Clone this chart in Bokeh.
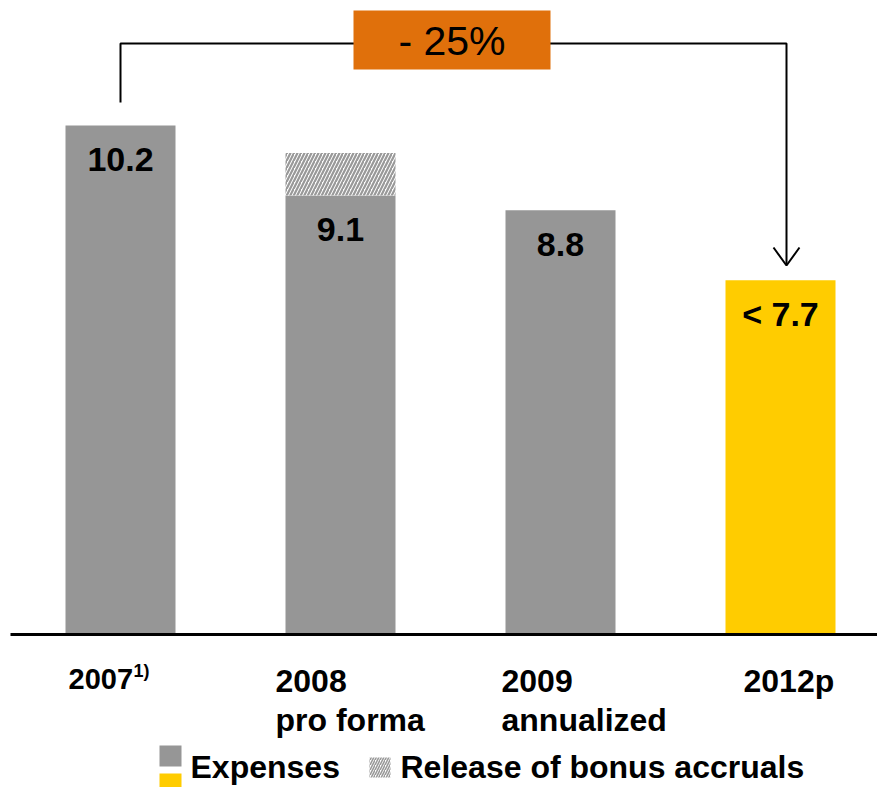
from bokeh.plotting import figure
from bokeh.models import Range1d
from bokeh.core.properties import value
from bokeh.embed import file_html
from bokeh.resources import INLINE

# ---- data ----
cat_line1 = ["2007", "2008", "2009", "2012p"]
cat_line2 = ["", "pro forma", "annualized", ""]
expenses = [10.2, 8.8, 8.5, 7.1]
bonus_release = [0.0, 0.85, 0.0, 0.0]
value_labels = ["10.2", "9.1", "8.8", "< 7.7"]
change_label = "- 25%"
legend_labels = ["Expenses", "Release of bonus accruals"]

# ---- styles ----
GRAY = "#969696"
YELLOW = "#FFCC00"
ORANGE = "#E0700B"
HATCH = "#999999"
FONT = value("Liberation Sans")
bar_colors = [GRAY, GRAY, GRAY, YELLOW]

W, H = 877, 787
PX_PER_UNIT = 49.9
BASE_PX = 634
STEP_PX = 220
FIRST_PX = 120

def X(px):
    return (px - FIRST_PX) / STEP_PX

def Y(py):
    return (BASE_PX - py) / PX_PER_UNIT

def adj(size):
    # baseline correction observed in the renderer
    return -round(0.37 * size)

p = figure(width=W, height=H,
           x_range=Range1d(X(0), X(W)), y_range=Range1d(Y(H), Y(0)),
           output_backend="svg", toolbar_location=None,
           x_axis_type=None, y_axis_type=None, min_border=0,
           outline_line_color=None, background_fill_color="white",
           border_fill_color="white")
p.grid.visible = False

xs = list(range(len(expenses)))
tops2 = [e + b for e, b in zip(expenses, bonus_release)]

# bars
p.vbar(x=xs, top=expenses, width=0.5, fill_color=bar_colors, line_color=None)
p.vbar(x=xs, bottom=expenses, top=tops2, width=0.5, fill_color="white",
       line_color=None, hatch_pattern="/", hatch_color=HATCH,
       hatch_scale=7, hatch_weight=2.2)

# baseline
p.segment(x0=X(10), x1=X(W), y0=0, y1=0, line_width=3, line_color="black")

# value labels
p.text(x=xs, y=expenses, text=value_labels, text_align="center",
       text_baseline="alphabetic", y_offset=47 + adj(34), text_font=FONT,
       text_font_style="bold", text_font_size="34px", text_color="black")

# category labels
label_offsets = [-52, -65, -59, -37]
lx = [i + o / STEP_PX for i, o in zip(xs, label_offsets)]
p.text(x=lx[:1], y=[0], text=cat_line1[:1], text_align="left",
       text_baseline="alphabetic", y_offset=55 + adj(29), text_font=FONT,
       text_font_style="bold", text_font_size="29px", text_color="black")
p.text(x=lx[1:], y=[0] * 3, text=cat_line1[1:], text_align="left",
       text_baseline="alphabetic", y_offset=58 + adj(32), text_font=FONT,
       text_font_style="bold", text_font_size="32px", text_color="black")
p.text(x=lx, y=[0] * 4, text=cat_line2, text_align="left",
       text_baseline="alphabetic", y_offset=97 + adj(32), text_font=FONT,
       text_font_style="bold", text_font_size="32px", text_color="black")
p.text(x=[X(133)], y=[Y(677)], text=["1)"], text_align="left",
       text_baseline="alphabetic", y_offset=adj(18), text_font=FONT,
       text_font_style="bold", text_font_size="18px", text_color="black")

# bracket with arrow
top_level = Y(43)
ax = X(786)
p.line(x=[0, 0, ax, ax], y=[Y(102), top_level, top_level, Y(264)],
       line_width=2, line_color="black")
p.line(x=[ax - 13 / STEP_PX, ax, ax + 13 / STEP_PX],
       y=[Y(247), Y(265), Y(247)], line_width=2, line_color="black")

# change box
p.rect(x=[X(451.5)], y=[Y(39.5)], width=197, height=59,
       width_units="screen", height_units="screen",
       fill_color=ORANGE, line_color=None)
p.text(x=[X(451.5)], y=[Y(55)], text=[change_label], text_align="center",
       text_baseline="alphabetic", y_offset=adj(41), text_font=FONT,
       text_font_size="41px", text_color="black")

# legend
p.rect(x=[X(170)], y=[Y(755.5)], width=22, height=21,
       width_units="screen", height_units="screen",
       fill_color=GRAY, line_color=None)
p.rect(x=[X(170)], y=[Y(783.5)], width=22, height=21,
       width_units="screen", height_units="screen",
       fill_color=YELLOW, line_color=None)
p.rect(x=[X(379.5)], y=[Y(767)], width=21, height=20,
       width_units="screen", height_units="screen",
       fill_color="white", line_color=None, hatch_pattern="/",
       hatch_color=HATCH, hatch_scale=5, hatch_weight=1.6)
p.text(x=[X(190), X(400)], y=[Y(778), Y(778)], text=legend_labels,
       text_align="left", text_baseline="alphabetic", y_offset=adj(32),
       text_font=FONT, text_font_style="bold", text_font_size="32px",
       text_color="black")

open("out.html", "w").write(file_html(p, INLINE))
